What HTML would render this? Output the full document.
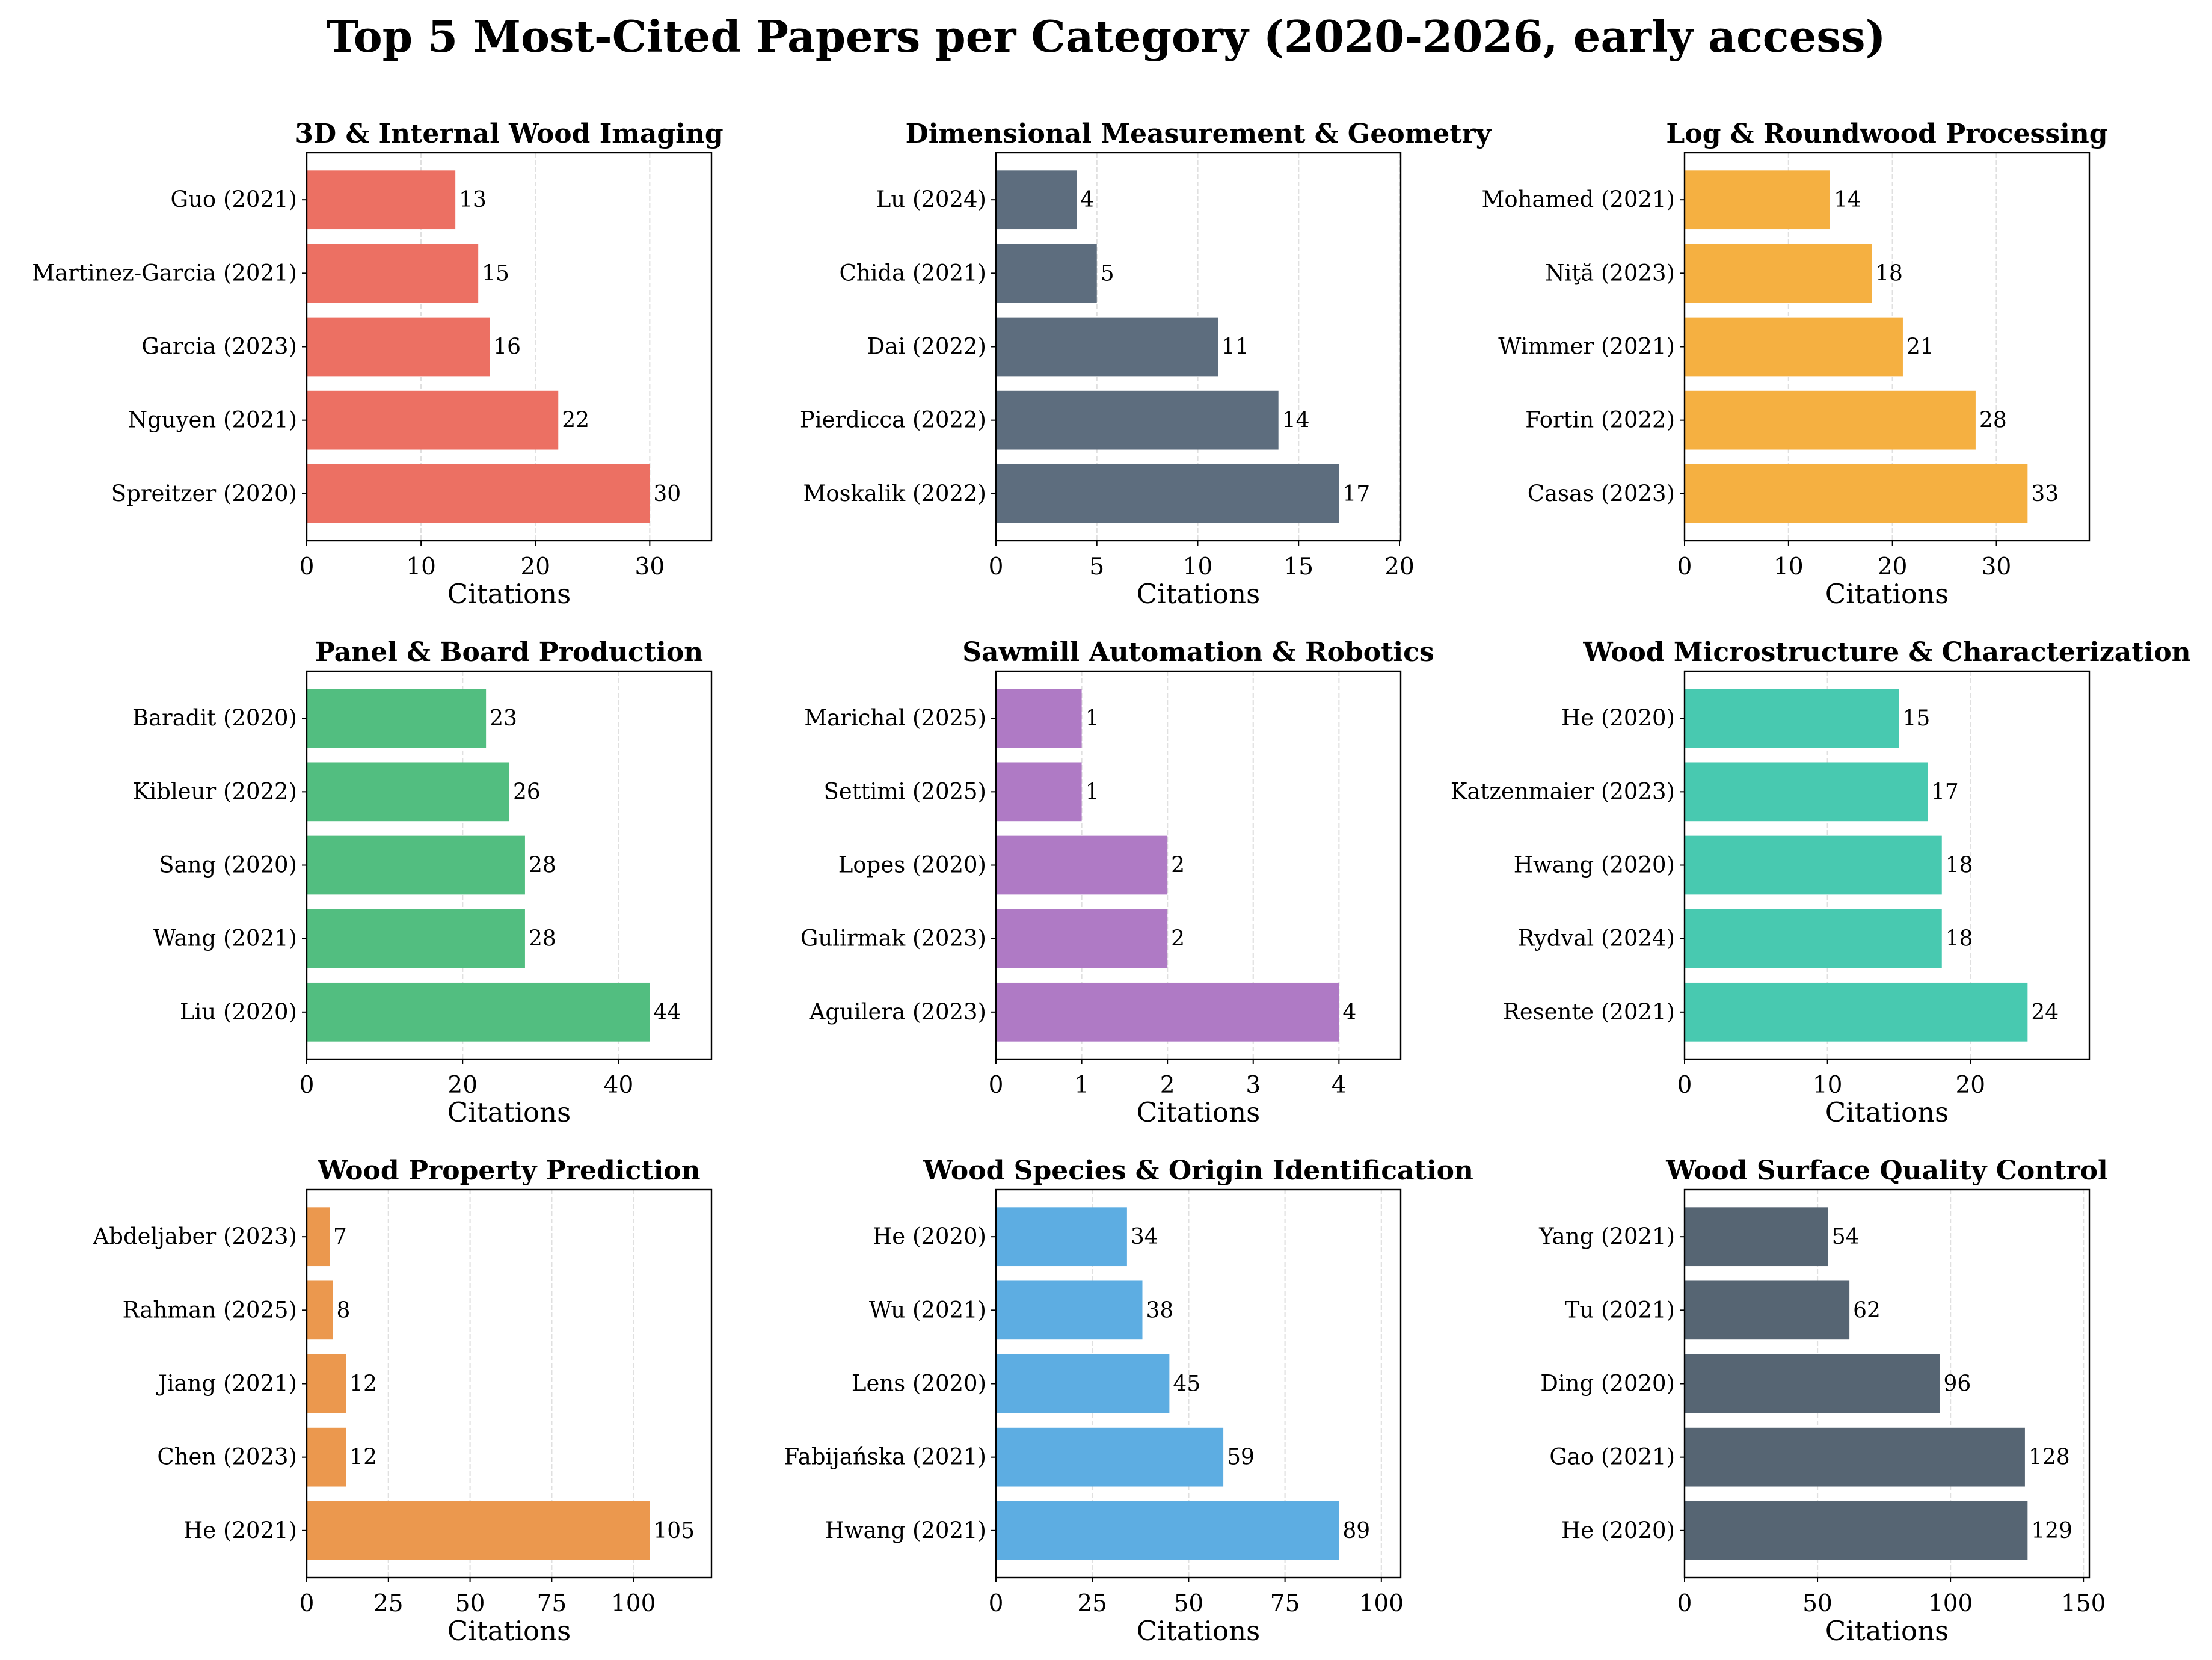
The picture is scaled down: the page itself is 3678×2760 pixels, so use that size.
<!DOCTYPE html>
<html><head><meta charset="utf-8"><style>
body{margin:0;background:#fff}
svg{display:block;font-family:"DejaVu Serif","Liberation Serif",serif}
</style></head><body>
<svg id="fig" width="3678" height="2760" viewBox="0 0 3678 2760" xmlns="http://www.w3.org/2000/svg">
<rect width="3678" height="2760" fill="#fff"/>
<text x="1839" y="86" text-anchor="middle" font-size="72" font-weight="bold">Top 5 Most-Cited Papers per Category (2020-2026, early access)</text>
</svg>
<script>
const titles = ["3D & Internal Wood Imaging","Dimensional Measurement & Geometry","Log & Roundwood Processing","Panel & Board Production","Sawmill Automation & Robotics","Wood Microstructure & Characterization","Wood Property Prediction","Wood Species & Origin Identification","Wood Surface Quality Control"];
const labels = [
 ["Spreitzer (2020)","Nguyen (2021)","Garcia (2023)","Martinez-Garcia (2021)","Guo (2021)"],
 ["Moskalik (2022)","Pierdicca (2022)","Dai (2022)","Chida (2021)","Lu (2024)"],
 ["Casas (2023)","Fortin (2022)","Wimmer (2021)","Niţă (2023)","Mohamed (2021)"],
 ["Liu (2020)","Wang (2021)","Sang (2020)","Kibleur (2022)","Baradit (2020)"],
 ["Aguilera (2023)","Gulirmak (2023)","Lopes (2020)","Settimi (2025)","Marichal (2025)"],
 ["Resente (2021)","Rydval (2024)","Hwang (2020)","Katzenmaier (2023)","He (2020)"],
 ["He (2021)","Chen (2023)","Jiang (2021)","Rahman (2025)","Abdeljaber (2023)"],
 ["Hwang (2021)","Fabijańska (2021)","Lens (2020)","Wu (2021)","He (2020)"],
 ["He (2020)","Gao (2021)","Ding (2020)","Tu (2021)","Yang (2021)"]
];
const values = [
 [30,22,16,15,13],[17,14,11,5,4],[33,28,21,18,14],[44,28,28,26,23],[4,2,2,1,1],
 [24,18,18,17,15],[105,12,12,8,7],[89,59,45,38,34],[129,128,96,62,54]
];
const tickSteps = [10,5,10,20,1,10,25,25,50];
const colors = ["#ec7063","#5d6d7e","#f5b041","#52be80","#af7ac5","#48c9b0","#eb984e","#5dade2","#566573"];

const NS="http://www.w3.org/2000/svg";
const svg=document.getElementById('fig');
function el(tag,attrs,parent,text){const e=document.createElementNS(NS,tag);for(const k in attrs)e.setAttribute(k,attrs[k]);if(text!==undefined)e.textContent=text;(parent||svg).appendChild(e);return e;}
const colX=[510,1656,2801], rowY=[254,1116,1978], W=673, H=645;
titles.forEach((t,i)=>{
  const x0=colX[i%3], y0=rowY[Math.floor(i/3)];
  const vals=values[i], xmax=Math.max(...vals)*1.18;
  const sx=v=>x0+v/xmax*W;
  const ymin=-0.64,ymax=4.64;
  const sy=v=>y0+H-(v-ymin)/(ymax-ymin)*H;
  const g=el('g',{});  
  for(let v=0;v<=xmax+1e-9;v+=tickSteps[i]){
    const gl=el('line',{x1:sx(v),x2:sx(v),y1:y0,y2:y0+H,stroke:'#cccccc','stroke-width':2.2,'stroke-dasharray':'8,4',opacity:0.6},g);
     
    const tk=el('line',{x1:sx(v),x2:sx(v),y1:y0+H,y2:y0+H+8,stroke:'#000','stroke-width':2},g);
     
    const tl=el('text',{x:sx(v),y:y0+H+56,'text-anchor':'middle','font-size':39},g,String(v));
     
  }
  vals.forEach((v,j)=>{
    const yc=sy(j);
    const b=el('rect',{x:x0,y:yc-0.4*H/(ymax-ymin),width:sx(v)-x0,height:0.8*H/(ymax-ymin),fill:colors[i]},g);
     
    const vl=el('text',{x:sx(v)+6,y:yc+12,'font-size':36},g,String(v));
     
    const yt=el('line',{x1:x0-8,x2:x0,y1:yc,y2:yc,stroke:'#000','stroke-width':2},g);
     
    const yl=el('text',{x:x0-16,y:yc+12,'text-anchor':'end','font-size':37},g,labels[i][j]);
     
  });
  const fr=el('rect',{x:x0,y:y0,width:W,height:H,fill:'none',stroke:'#000','stroke-width':2.4},g);
   
  const tt=el('text',{x:x0+W/2,y:y0-17,'text-anchor':'middle','font-size':44,'font-weight':'bold'},g,t);
   
  const xt=el('text',{x:x0+W/2,y:y0+H+104,'text-anchor':'middle','font-size':45},g,'Citations');
   
});
</script>
</body></html>
